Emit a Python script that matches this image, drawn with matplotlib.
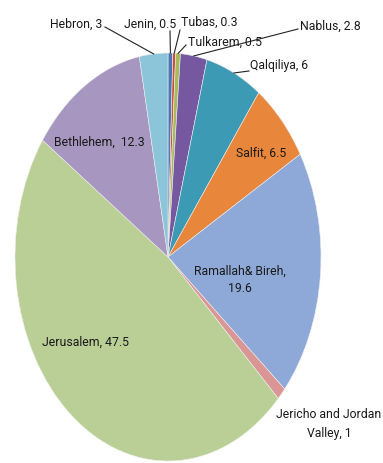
import numpy as np
import matplotlib.pyplot as plt

# Governorates, clockwise from 12 o'clock
names = ["Jenin", "Tubas", "Tulkarem", "Nablus", "Qalqiliya", "Salfit",
         "Ramallah& Bireh", "Jericho and Jordan\nValley", "Jerusalem",
         "Bethlehem", "Hebron"]
values = [0.5, 0.3, 0.5, 2.8, 6, 6.5, 19.6, 1, 47.5, 12.3, 3]
seps = [", ", ", ", ", ", ", ", ", ", ", ", ",\n", ", ", ", ", ",  ", ", "]
colors = ["#4A78B5", "#C9503D", "#A8BB59", "#7558A0", "#3D9AB5", "#E8863C",
          "#8EA9D8", "#D99694", "#BACF95", "#A797C0", "#8CC4DA"]

plt.rcParams['font.family'] = ['Roboto', 'DejaVu Sans']

W, H = 383, 463
cx, cy, rx, ry = 168, 257, 153, 204   # ellipse in pixels

def P(x, y):
    return ((x - cx) / rx, (cy - y) / ry)

fig = plt.figure(figsize=(W / 100, H / 100), dpi=100)
ax = fig.add_axes([0, 0, 1, 1])
wedges, _ = ax.pie(values, colors=colors, startangle=90, counterclock=False,
                   wedgeprops=dict(edgecolor="#eeeeee", linewidth=0.4))
ax.set_aspect("auto")
ax.set_xlim(-cx / rx, (W - cx) / rx)
ax.set_ylim(-(H - cy) / ry, cy / ry)
ax.axis("off")

labels = [n + s + f"{v:g}" for n, s, v in zip(names, seps, values)]

# text position (px), alignment, leader start (px) or None
layout = {
    "Jenin": ((176, 24), "right", (170, 31)),
    "Tubas": ((181, 22), "left", (180, 30)),
    "Tulkarem": ((188, 42), "left", (186, 45)),
    "Nablus": ((300, 26), "left", (298, 29)),
    "Qalqiliya": ((250, 66), "left", (249, 71)),
    "Salfit": ((261, 153), "center", None),
    "Ramallah& Bireh": ((240, 280), "center", None),
    "Jericho and Jordan\nValley": ((329, 424), "center", None),
    "Jerusalem": ((86, 342), "center", None),
    "Bethlehem": ((99, 142), "center", None),
    "Hebron": ((102, 24), "right", (105, 27)),
}

for w, name, lab in zip(wedges, names, labels):
    (tx, ty), ha, lead = layout[name]
    ax.text(*P(tx, ty), lab, ha=ha, va="center", fontsize=8.8,
            color="#1a1a1a", linespacing=1.5)
    if lead is not None:
        th = np.deg2rad((w.theta1 + w.theta2) / 2)
        ax.plot([P(*lead)[0], np.cos(th)], [P(*lead)[1], np.sin(th)],
                color="#222222", lw=0.8)

fig.savefig("out.png", dpi=100)
